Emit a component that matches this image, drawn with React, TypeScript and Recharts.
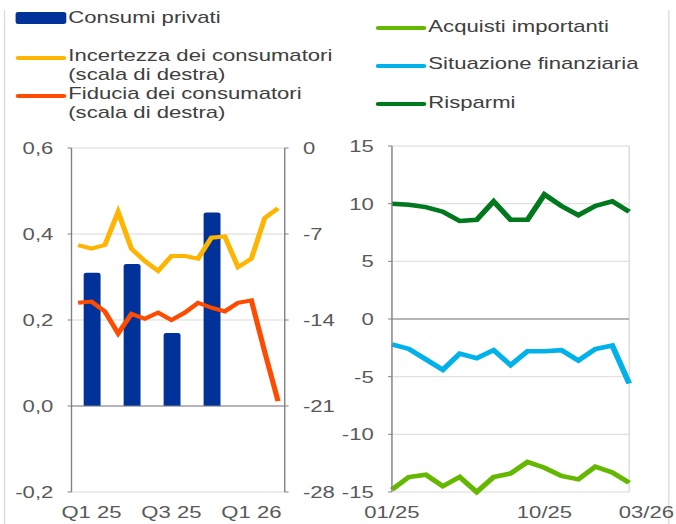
import React from "react";
import {
  Bar,
  CartesianGrid,
  ComposedChart,
  Line,
  LineChart,
  ReferenceLine,
  XAxis,
  YAxis,
} from "recharts";

// the original picture is stretched sideways, so everything is laid out
// narrower and widened with scaleX
const STRETCH = 1.3;
const FONT = "'Liberation Sans', Arial, sans-serif";
const AXIS = "#808080";
const GRID = "#d9d9d9";
const TICK_TEXT = "#595959";

// left panel
const leftMonths = [
  "01/25", "02/25", "03/25", "04/25", "05/25", "06/25", "07/25", "08/25",
  "09/25", "10/25", "11/25", "12/25", "01/26", "02/26", "03/26", "04/26",
];
const quarters = ["Q1 25", "Q2 25", "Q3 25", "Q4 25", "Q1 26", "Q2 26"];
const quarterLabels = ["Q1 25", "Q3 25", "Q1 26"];
const consumiPrivati = [0.31, 0.33, 0.17, 0.45];
const incertezza = [
  -7.9, -8.2, -7.9, -5.2, -8.2, -9.2, -10.0, -8.8,
  -8.8, -9.0, -7.3, -7.2, -9.7, -9.0, -5.7, -4.9,
];
const fiducia = [
  -12.6, -12.5, -13.3, -15.1, -13.5, -13.9, -13.4, -14.0,
  -13.4, -12.6, -13.0, -13.3, -12.6, -12.4, -16.6, -20.6,
];
const consumiTicks = [-0.2, 0, 0.2, 0.4, 0.6];
const climaTicks = [-28, -21, -14, -7, 0];

// right panel
const rightMonths = [
  "01/25", "02/25", "03/25", "04/25", "05/25", "06/25", "07/25", "08/25",
  "09/25", "10/25", "11/25", "12/25", "01/26", "02/26", "03/26",
];
const rightLabelMonths = ["01/25", "10/25", "03/26"];
const rightGridMonths = ["07/25", "01/26", "03/26"];
const acquisti = [
  -14.8, -13.7, -13.5, -14.5, -13.7, -15.0, -13.7, -13.4,
  -12.4, -12.9, -13.6, -13.9, -12.8, -13.3, -14.2,
];
const situazione = [
  -2.2, -2.6, -3.5, -4.4, -3.0, -3.4, -2.7, -4.0,
  -2.8, -2.8, -2.7, -3.6, -2.6, -2.3, -5.6,
];
const risparmi = [
  10.0, 9.9, 9.7, 9.3, 8.5, 8.6, 10.2, 8.6,
  8.6, 10.8, 9.8, 9.0, 9.8, 10.2, 9.3,
];
const saldiTicks = [-15, -10, -5, 0, 5, 10, 15];

const COLORS = {
  consumi: "#003299",
  incertezza: "#ffb400",
  fiducia: "#ff4b00",
  acquisti: "#65b800",
  situazione: "#00b1ea",
  risparmi: "#00781e",
};

const leftData = leftMonths.map((month, i) => ({
  pos: i + 0.5,
  month,
  consumi: i % 3 === 1 ? consumiPrivati[(i - 1) / 3] ?? null : null,
  incertezza: incertezza[i],
  fiducia: fiducia[i],
}));

const rightData = rightMonths.map((month, i) => ({
  pos: i,
  month,
  acquisti: acquisti[i],
  situazione: situazione[i],
  risparmi: risparmi[i],
}));

const quarterBounds = quarters.slice(1).map((_, q) => (q + 1) * 3);
const quarterCenters = quarterLabels.map((q) => quarters.indexOf(q) * 3 + 1.5);
const rightGridTicks = rightGridMonths.map((m) => rightMonths.indexOf(m));
const rightLabelTicks = rightLabelMonths.map((m) => rightMonths.indexOf(m));

const comma = (v: number) => v.toFixed(1).replace(".", ",");
const tickStyle = { fill: TICK_TEXT, fontSize: 17, fontFamily: FONT };

function DateTick(props: any) {
  const { x, y, payload } = props;
  const last = payload.value === rightMonths.length - 1;
  return (
    <text
      x={x}
      y={y}
      dy="0.71em"
      dx={last ? -8 : 0}
      textAnchor={last ? "start" : "middle"}
      fill={TICK_TEXT}
      fontSize={17}
      fontFamily={FONT}
    >
      {rightMonths[payload.value]}
    </text>
  );
}

function BarShape(props: any) {
  const { x, y, width, height, fill } = props;
  if (!height) return null;
  const w = 13;
  const cx = x + width / 2;
  const r = 2;
  const left = cx - w / 2;
  const bottom = y + height;
  return (
    <path
      d={`M${left},${bottom} L${left},${y + r} Q${left},${y} ${left + r},${y} L${left + w - r},${y} Q${left + w},${y} ${left + w},${y + r} L${left + w},${bottom} Z`}
      fill={fill}
    />
  );
}

function Swatch({ color, bar }: { color: string; bar?: boolean }) {
  return (
    <div
      style={{
        width: 39,
        height: bar ? 12 : 4,
        background: color,
        borderRadius: 2,
        flex: "none",
      }}
    />
  );
}

function LegendEntry({
  top,
  left,
  color,
  bar,
  lines,
}: {
  top: number;
  left: number;
  color: string;
  bar?: boolean;
  lines: string[];
}) {
  return (
    <div style={{ position: "absolute", top, left, display: "flex", alignItems: "flex-start" }}>
      <div style={{ paddingTop: bar ? 4 : 9.5 }}>
        <Swatch color={color} bar={bar} />
      </div>
      <div style={{ marginLeft: 2, fontSize: 17, lineHeight: "19px", color: "#404040", whiteSpace: "nowrap" }}>
        {lines.map((l) => (
          <div key={l}>{l}</div>
        ))}
      </div>
    </div>
  );
}

function LeftPanel() {
  return (
    <ComposedChart
      width={262}
      height={394}
      data={leftData}
      margin={{ top: 18, right: 0, bottom: 0, left: 0 }}
      style={{ fontFamily: FONT }}
    >
      <CartesianGrid stroke={GRID} yAxisId="left" xAxisId={0} />
      <XAxis
        xAxisId={0}
        dataKey="pos"
        type="number"
        domain={[0, 16]}
        ticks={quarterBounds}
        height={0}
        tick={false}
        axisLine={false}
        tickLine={false}
      />
      <XAxis
        xAxisId="lbl"
        dataKey="pos"
        type="number"
        domain={[0, 16]}
        ticks={quarterCenters}
        interval={0}
        tickFormatter={(v: number) => quarters[Math.floor(v / 3)]}
        axisLine={false}
        tickLine={false}
        tickSize={4}
        tickMargin={10}
        height={32}
        tick={tickStyle}
      />
      <YAxis
        yAxisId="left"
        domain={[-0.2, 0.6]}
        ticks={consumiTicks}
        interval={0}
        tickFormatter={comma}
        width={55}
        stroke={AXIS}
        tickSize={3}
        tickMargin={11}
        tick={tickStyle}
      />
      <YAxis
        yAxisId="right"
        orientation="right"
        domain={[-28, 0]}
        ticks={climaTicks}
        interval={0}
        width={43}
        stroke={AXIS}
        tickSize={3}
        tickMargin={11}
        tick={tickStyle}
      />
      <ReferenceLine yAxisId="left" y={0} stroke={AXIS} />
      <Bar
        yAxisId="left"
        dataKey="consumi"
        fill={COLORS.consumi}
        barSize={13}
        shape={<BarShape />}
        isAnimationActive={false}
      />
      <Line
        yAxisId="right"
        dataKey="incertezza"
        stroke={COLORS.incertezza}
        strokeWidth={4}
        dot={false}
        type="linear"
        isAnimationActive={false}
      />
      <Line
        yAxisId="right"
        dataKey="fiducia"
        stroke={COLORS.fiducia}
        strokeWidth={4}
        dot={false}
        type="linear"
        isAnimationActive={false}
      />
    </ComposedChart>
  );
}

function RightPanel() {
  return (
    <LineChart
      width={280}
      height={394}
      data={rightData}
      margin={{ top: 16, right: 36, bottom: 0, left: 0 }}
      style={{ fontFamily: FONT }}
    >
      <CartesianGrid stroke={GRID} xAxisId={0} />
      <XAxis
        xAxisId={0}
        dataKey="pos"
        type="number"
        domain={[0, 14]}
        ticks={rightGridTicks}
        height={0}
        tick={false}
        axisLine={false}
        tickLine={false}
      />
      <XAxis
        xAxisId="lbl"
        dataKey="pos"
        type="number"
        domain={[0, 14]}
        ticks={rightLabelTicks}
        interval={0}
        axisLine={false}
        tickLine={false}
        tickSize={4}
        tickMargin={10}
        height={32}
        tick={<DateTick />}
      />
      <YAxis
        domain={[-15, 15]}
        ticks={saldiTicks}
        interval={0}
        width={61.5}
        stroke={AXIS}
        tickSize={3}
        tickMargin={11}
        tick={tickStyle}
      />
      <ReferenceLine y={0} stroke={AXIS} />
      <Line dataKey="acquisti" stroke={COLORS.acquisti} strokeWidth={4.5} dot={false} type="linear" isAnimationActive={false} />
      <Line dataKey="situazione" stroke={COLORS.situazione} strokeWidth={4.5} dot={false} type="linear" isAnimationActive={false} />
      <Line dataKey="risparmi" stroke={COLORS.risparmi} strokeWidth={4.5} dot={false} type="linear" isAnimationActive={false} />
    </LineChart>
  );
}

export default function App() {
  return (
    <div
      style={{
        position: "absolute",
        left: 0,
        top: 0,
        width: 520,
        height: 524,
        overflow: "hidden",
        background: "#fff",
        fontFamily: FONT,
        transform: `scaleX(${STRETCH})`,
        transformOrigin: "0 0",
      }}
    >
      <div style={{ position: "absolute", left: 3, top: 10, width: 1, height: 514, background: GRID }} />
      <div style={{ position: "absolute", left: 514, top: 10, width: 1, height: 514, background: GRID }} />

      <LegendEntry top={8} left={11.5} color={COLORS.consumi} bar lines={["Consumi privati"]} />
      <LegendEntry
        top={46}
        left={11.5}
        color={COLORS.incertezza}
        lines={["Incertezza dei consumatori", "(scala di destra)"]}
      />
      <LegendEntry
        top={84}
        left={11.5}
        color={COLORS.fiducia}
        lines={["Fiducia dei consumatori", "(scala di destra)"]}
      />
      <LegendEntry top={16.5} left={288.5} color={COLORS.acquisti} lines={["Acquisti importanti"]} />
      <LegendEntry top={54} left={288.5} color={COLORS.situazione} lines={["Situazione finanziaria"]} />
      <LegendEntry top={92.5} left={288.5} color={COLORS.risparmi} lines={["Risparmi"]} />

      <div style={{ position: "absolute", left: 0, top: 130 }}>
        <LeftPanel />
      </div>
      <div style={{ position: "absolute", left: 240, top: 130 }}>
        <RightPanel />
      </div>
    </div>
  );
}
